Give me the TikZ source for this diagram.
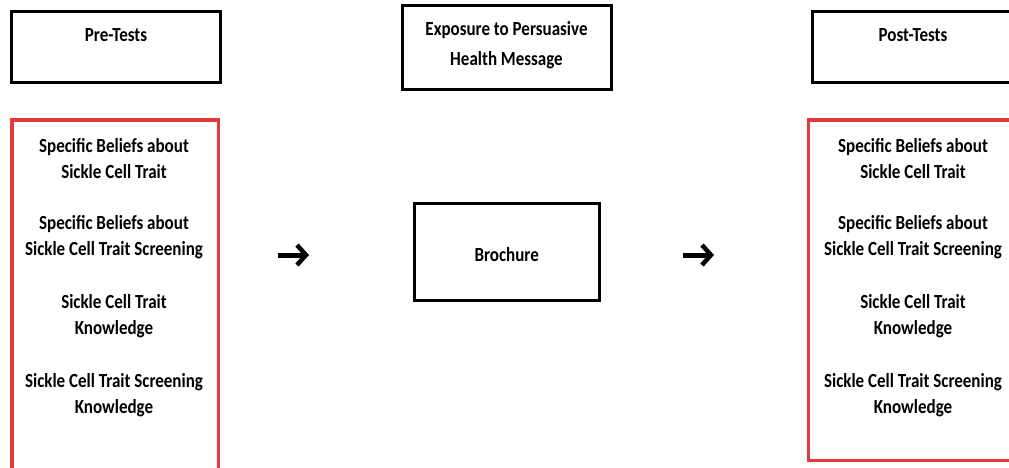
\documentclass[tikz,border=0pt]{standalone}
\usepackage{fontspec}
\setmainfont{Carlito}[FakeStretch=0.85]
\usetikzlibrary{arrows.meta}
\definecolor{boxred}{RGB}{230,58,58}
\tikzset{
  frame/.style={draw=black, line width=3pt, fill=none, inner sep=0pt},
  redframe/.style={draw=boxred, line width=3.5pt, fill=none, inner sep=0pt},
  lbl/.style={font=\fontsize{20}{26}\selectfont\bfseries, align=center, inner sep=0pt},
  flow/.style={line width=5pt, -{Straight Barb[length=9pt, width=20pt, line width=4.5pt]}}
}
\begin{document}
\begin{tikzpicture}[x=1pt, y=-1pt]
  \useasboundingbox (0,0) rectangle (1009,468);
  \clip (0,0) rectangle (1009,468);

  % header boxes
  \node[frame, minimum width=209pt, minimum height=71pt] (pre) at (116,47) {};
  \node[lbl] (pretxt) at (116,35) {Pre-Tests};

  \node[frame, minimum width=209pt, minimum height=84pt] (expo) at (506.5,47.5) {};
  \node[lbl, font=\fontsize{20}{30}\selectfont\bfseries] (expotxt) at (506.5,45) {Exposure to Persuasive\\Health Message};

  \node[frame, minimum width=209pt, minimum height=71pt] (post) at (916.5,47) {};
  \node[lbl] (posttxt) at (913,35) {Post-Tests};

  % measured variables
  \node[redframe, minimum width=206.7pt, minimum height=380pt] (prebox) at (115.35,310) {};
  \node[redframe, minimum width=209pt, minimum height=340.7pt] (postbox) at (913.2,290.35) {};

  \foreach \side/\cx in {l/114, r/913} {
    \node[lbl] (\side1) at (\cx,158.5) {Specific Beliefs about\\Sickle Cell Trait};
    \node[lbl] (\side2) at (\cx,237.5) {Specific Beliefs about\\Sickle Cell Trait Screening};
    \node[lbl] (\side3) at (\cx,316) {Sickle Cell Trait\\Knowledge};
    \node[lbl] (\side4) at (\cx,395) {Sickle Cell Trait Screening\\Knowledge};
  }

  % intervention
  \node[frame, minimum width=185.5pt, minimum height=97pt] (bro) at (506.75,251.5) {};
  \node[lbl] (brotxt) at (506.75,255) {Brochure};

  % flow arrows
  \coordinate (a1s) at (278,255);
  \coordinate (a1e) at (309,255);
  \coordinate (a2s) at (683,255);
  \coordinate (a2e) at (714,255);
  \draw[flow] (a1s) -- (a1e);
  \draw[flow] (a2s) -- (a2e);
\end{tikzpicture}
\end{document}
